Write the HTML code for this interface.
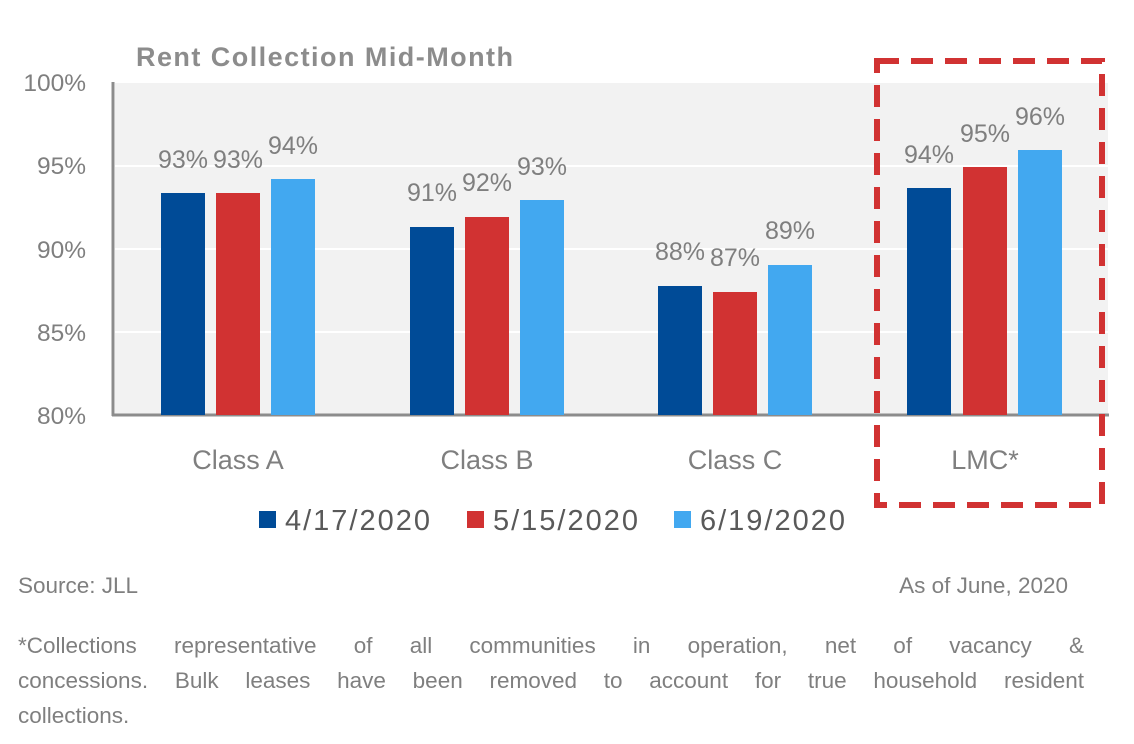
<!DOCTYPE html>
<html><head><style>
body{margin:0;background:#fff;font-family:"Liberation Sans",sans-serif;}
.fn{position:absolute;left:18px;width:1066px;font-size:22.5px;line-height:35px;color:#7f7f7f;text-align:justify;text-align-last:justify;white-space:nowrap;}
</style></head><body>
<svg width="1134" height="744" xmlns="http://www.w3.org/2000/svg" font-family="Liberation Sans, sans-serif" style="position:absolute;left:0;top:0">
<rect x="115" y="83" width="993" height="332" fill="#F2F2F2"/>
<g stroke="#fff" stroke-width="2">
<line x1="115" x2="1108" y1="166" y2="166"/><line x1="115" x2="1108" y1="249" y2="249"/><line x1="115" x2="1108" y1="332" y2="332"/>
</g>
<line x1="113" y1="82" x2="113" y2="416" stroke="#8c8c8c" stroke-width="3"/>
<line x1="112" y1="415" x2="1109" y2="415" stroke="#8c8c8c" stroke-width="3"/>
<text x="136" y="66" font-size="27" font-weight="bold" fill="#8c8c8c" textLength="377" lengthAdjust="spacing">Rent Collection Mid-Month</text>
<g font-size="24.5" fill="#7f7f7f" text-anchor="end">
<text x="86" y="91">100%</text><text x="86" y="174">95%</text><text x="86" y="258">90%</text><text x="86" y="341">85%</text><text x="86" y="424">80%</text>
</g>
<g>
<rect x="161" y="193" width="44" height="222" fill="#004B97"/><rect x="216" y="193" width="44" height="222" fill="#D13232"/><rect x="271" y="179" width="44" height="236" fill="#42A8F0"/>
<rect x="410" y="227" width="44" height="188" fill="#004B97"/><rect x="465" y="217" width="44" height="198" fill="#D13232"/><rect x="520" y="200" width="44" height="215" fill="#42A8F0"/>
<rect x="658" y="286" width="44" height="129" fill="#004B97"/><rect x="713" y="292" width="44" height="123" fill="#D13232"/><rect x="768" y="265" width="44" height="150" fill="#42A8F0"/>
<rect x="907" y="188" width="44" height="227" fill="#004B97"/><rect x="963" y="167" width="44" height="248" fill="#D13232"/><rect x="1018" y="150" width="44" height="265" fill="#42A8F0"/>
</g>
<g font-size="25" fill="#7f7f7f" text-anchor="middle">
<text x="183" y="168">93%</text><text x="238" y="168">93%</text><text x="293" y="154">94%</text>
<text x="432" y="201">91%</text><text x="487" y="191">92%</text><text x="542" y="175">93%</text>
<text x="680" y="260">88%</text><text x="735" y="266">87%</text><text x="790" y="239">89%</text>
<text x="929" y="163">94%</text><text x="985" y="142">95%</text><text x="1040" y="125">96%</text>
</g>
<g font-size="27" fill="#7f7f7f" text-anchor="middle">
<text x="238" y="469">Class A</text><text x="487" y="469">Class B</text><text x="735" y="469">Class C</text><text x="985" y="469">LMC*</text>
</g>
<rect x="877" y="61" width="225" height="444" fill="none" stroke="#D13232" stroke-width="6" stroke-dasharray="22,12"/>
<g font-size="29" fill="#595959">
<rect x="259" y="511" width="17" height="17" fill="#004B97"/><text x="285" y="530" textLength="145" lengthAdjust="spacing">4/17/2020</text>
<rect x="467" y="511" width="17" height="17" fill="#D13232"/><text x="493" y="530" textLength="145" lengthAdjust="spacing">5/15/2020</text>
<rect x="674" y="511" width="17" height="17" fill="#42A8F0"/><text x="700" y="530" textLength="145" lengthAdjust="spacing">6/19/2020</text>
</g>
<g font-size="22.5" fill="#7f7f7f">
<text x="18" y="593">Source: JLL</text>
<text x="1068" y="593" text-anchor="end">As of June, 2020</text>
</g>
</svg>
<div class="fn" style="top:628px">*Collections representative of all communities in operation, net of vacancy &amp;</div>
<div class="fn" style="top:663px">concessions. Bulk leases have been removed to account for true household resident</div>
<div class="fn" style="top:698px;text-align:left;text-align-last:left">collections.</div>
</body></html>
